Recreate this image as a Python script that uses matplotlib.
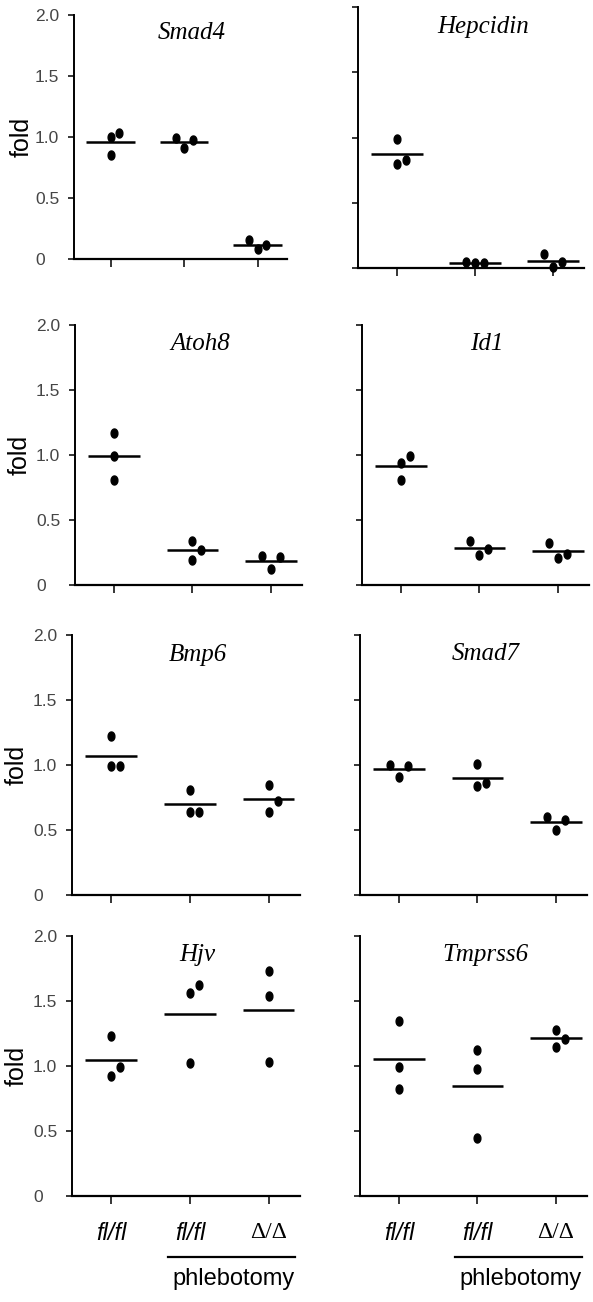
import numpy as np
import matplotlib
matplotlib.use('Agg')
import matplotlib.pyplot as plt
from matplotlib.path import Path
from matplotlib.transforms import blended_transform_factory

# fold change values, three mice per group
genes = ['Smad4', 'Hepcidin', 'Atoh8', 'Id1', 'Bmp6', 'Smad7', 'Hjv', 'Tmprss6']
group_labels = ['fl/fl', 'fl/fl', 'Δ/Δ']
yticks = [0, 0.5, 1.0, 1.5, 2.0]
ytick_labels = ['0', '0.5', '1.0', '1.5', '2.0']

smad4 = [[1.03, 1.00, 0.85], [0.99, 0.91, 0.975], [0.156, 0.08, 0.115]]
hepcidin = [[0.99, 0.80, 0.83], [0.04, 0.04, 0.045], [0.107, 0.01, 0.045]]
atoh8 = [[1.17, 0.99, 0.81], [0.34, 0.27, 0.19], [0.225, 0.218, 0.12]]
id1 = [[0.99, 0.94, 0.81], [0.34, 0.23, 0.28], [0.325, 0.21, 0.24]]
bmp6 = [[1.22, 0.99, 0.99], [0.81, 0.64, 0.64], [0.85, 0.72, 0.64]]
smad7 = [[1.00, 0.91, 0.99], [1.01, 0.84, 0.86], [0.60, 0.50, 0.58]]
hjv = [[1.23, 0.925, 0.995], [1.62, 1.56, 1.025], [1.73, 1.54, 1.03]]
tmprss6 = [[1.35, 0.99, 0.82], [1.12, 0.977, 0.444], [1.28, 1.15, 1.21]]

panel_data = [smad4, hepcidin, atoh8, id1, bmp6, smad7, hjv, tmprss6]

W, H = 593, 1302
# axes boxes in pixels: left, right, top, bottom
boxes = [(74, 287, 15, 259), (358, 584, 7, 268),
         (75, 302, 325, 585), (362, 589, 325, 585),
         (72, 300, 635, 895), (360, 587, 635, 895),
         (72, 300, 936, 1196), (360, 587, 936, 1196)]

# slightly tall dot, like the original
t = np.linspace(0, 2 * np.pi, 40)
dot = Path(np.column_stack([0.75 * np.cos(t), np.sin(t)]))


def swarm(vals, gap=0.12):
    placed = []
    slots = [0] * len(vals)
    for i in np.argsort(vals, kind='stable'):
        v = vals[i]
        for s in (0, 1, -1, 2, -2):
            if all(abs(v - pv) >= gap for ps, pv in placed if ps == s):
                break
        placed.append((s, v))
        slots[i] = s
    return slots


fig = plt.figure(figsize=(W / 100, H / 100), dpi=100)
fig.patch.set_facecolor('white')

for k, (gene, data, (l, r, tp, bt)) in enumerate(zip(genes, panel_data, boxes)):
    ax = fig.add_axes([l / W, 1 - bt / H, (r - l) / W, (bt - tp) / H])
    col = k % 2
    row = k // 2
    for g, vals in enumerate(data):
        xc = g + 1
        offs = swarm(vals)
        ax.plot([xc + 0.115 * o for o in offs], vals, linestyle='none',
                marker=dot, markersize=6.5, color='black', clip_on=False)
        m = np.mean(vals)
        ax.plot([xc - 0.33, xc + 0.33], [m, m], color='black', lw=1.8,
                solid_capstyle='butt')

    ax.set_xlim(0.5, 3.4)
    ax.set_ylim(0, 2.0)
    ax.spines['top'].set_visible(False)
    ax.spines['right'].set_visible(False)
    ax.spines['left'].set_linewidth(1.4)
    ax.spines['bottom'].set_linewidth(1.6)
    ax.set_xticks([1, 2, 3])
    ax.set_yticks(yticks)
    ax.tick_params(axis='y', direction='out', length=4, width=1.1)
    ax.tick_params(axis='x', direction='out', length=6, width=1.1)

    if col == 0:
        ax.set_yticklabels(ytick_labels, fontsize=12.5, color='#454545',
                           family='Liberation Sans')
        for lab in ax.get_yticklabels():
            lab.set_horizontalalignment('left')
        ax.tick_params(axis='y', pad=24)
        tr = blended_transform_factory(ax.transAxes, ax.transData)
        ax.text(-0.245, 1.0, 'fold', transform=tr, rotation=90,
                fontsize=18, family='Liberation Sans', ha='center', va='center')
    else:
        ax.set_yticklabels([])

    if row == 3:
        ax.set_xticklabels(group_labels)
        labs = ax.get_xticklabels()
        for lab in labs[:2]:
            lab.set_fontfamily(['Liberation Sans Narrow', 'Liberation Sans'])
            lab.set_fontstyle('italic')
            lab.set_fontsize(17)
        labs[2].set_fontfamily('Liberation Serif')
        labs[2].set_fontsize(17)
        ax.tick_params(axis='x', pad=13)
        ax.plot([1.72, 3.34], [-0.47, -0.47], color='black', lw=1.6,
                clip_on=False)
        ax.text(2.55, -0.64, 'phlebotomy', fontsize=17,
                family='Liberation Sans', ha='center', va='center')
    else:
        ax.set_xticklabels([])

    ax.text(2.1, 1.85, gene, fontsize=18, family='Liberation Serif',
            style='italic', ha='center', va='center')

fig.savefig('out.png', dpi=100, facecolor='white')
